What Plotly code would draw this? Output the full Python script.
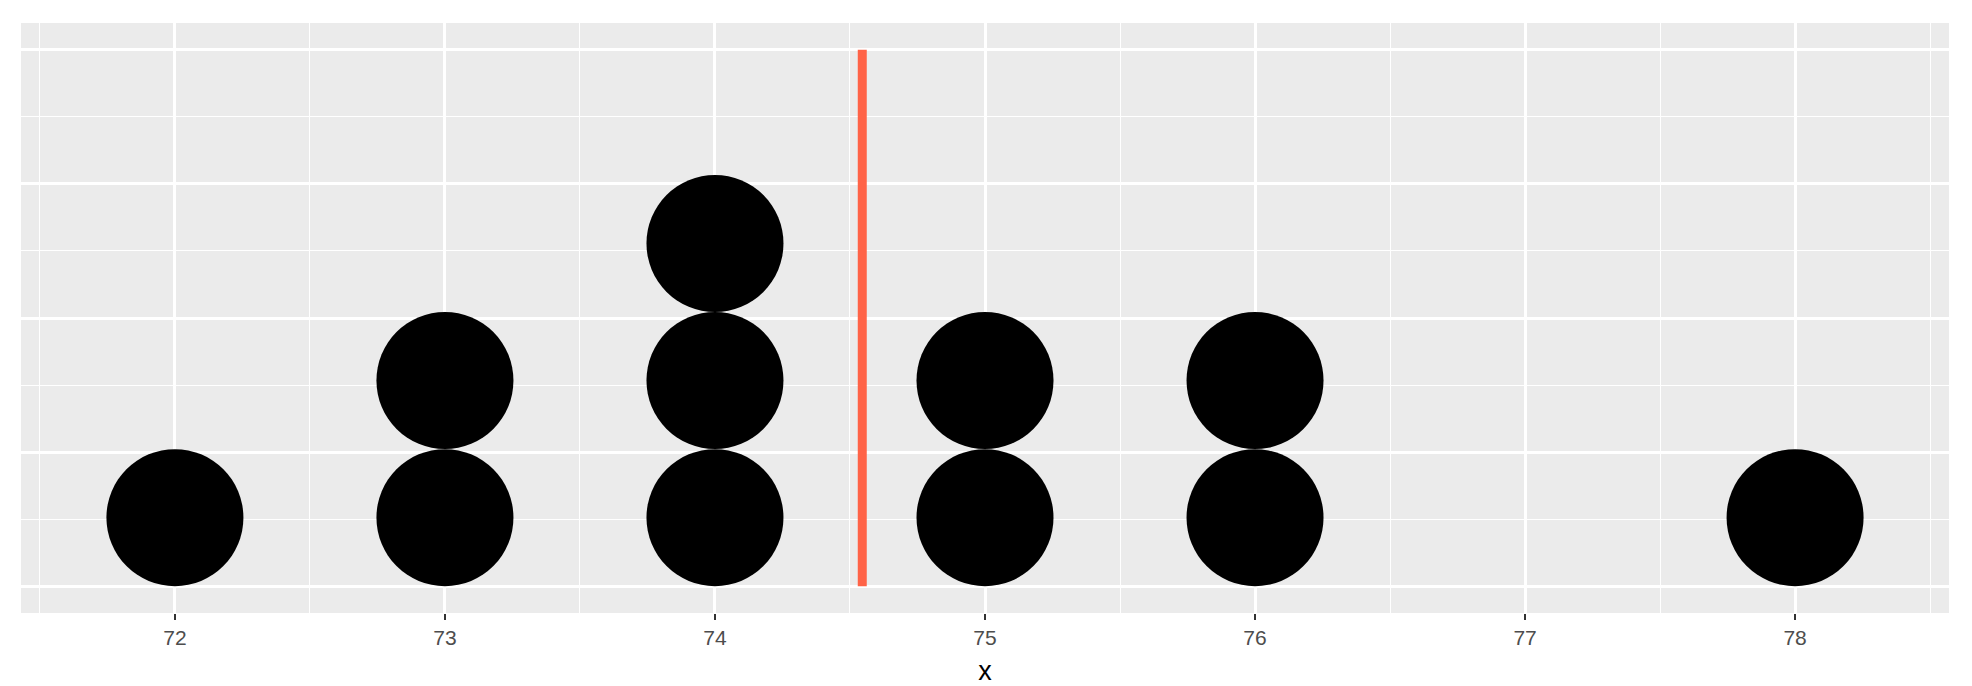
import plotly.graph_objects as go

# Data
x_values = [72, 73, 73, 74, 74, 74, 75, 75, 76, 76, 78]
x_ticks = [72, 73, 74, 75, 76, 77, 78]
x_tick_labels = ["72", "73", "74", "75", "76", "77", "78"]

# stacking of dots (dotplot): each repeated value stacks upward
dot_height = 0.2556  # stack step in y units (count scale)
counts = {}
dot_x, dot_y = [], []
for v in x_values:
    k = counts.get(v, 0)
    counts[v] = k + 1
    dot_x.append(v)
    dot_y.append((k + 0.5) * dot_height)

mean_x = sum(x_values) / len(x_values)

fig = go.Figure()
fig.add_trace(go.Scatter(
    x=dot_x, y=dot_y, mode="markers",
    marker=dict(size=137, color="black", line=dict(width=0)),
    hoverinfo="skip", showlegend=False,
))
fig.add_trace(go.Scatter(
    x=[mean_x, mean_x], y=[0, 1], mode="lines",
    line=dict(color="tomato", width=9),
    hoverinfo="skip", showlegend=False,
))

fig.update_layout(
    width=1972, height=686,
    margin=dict(l=21, r=23, t=23, b=73),
    paper_bgcolor="white",
    plot_bgcolor="#EBEBEB",
    font=dict(family="Liberation Sans, Arial, sans-serif"),
    xaxis=dict(
        range=[71.43, 78.57],
        tickvals=x_ticks, ticktext=x_tick_labels,
        showgrid=True, gridcolor="white", gridwidth=2.5,
        minor=dict(tickvals=[71.5, 72.5, 73.5, 74.5, 75.5, 76.5, 77.5, 78.5],
                   showgrid=True, gridcolor="white", gridwidth=1.3, ticks=""),
        ticks="outside", ticklen=6, tickwidth=2, tickcolor="#333333",
        tickfont=dict(size=21, color="#4D4D4D"),
        zeroline=False, showline=False, automargin=False,
        title=dict(text="x", font=dict(size=27, color="black"), standoff=12),
    ),
    yaxis=dict(
        range=[-0.05, 1.05],
        tickvals=[0, 0.25, 0.5, 0.75, 1.0],
        showticklabels=False, ticks="",
        showgrid=True, gridcolor="white", gridwidth=2.5,
        minor=dict(tickvals=[0.125, 0.375, 0.625, 0.875],
                   showgrid=True, gridcolor="white", gridwidth=1.3, ticks=""),
        zeroline=False, showline=False, automargin=False,
    ),
)

fig.write_html(
    "out.html",
    config={"displayModeBar": False},
    post_script="document.body.style.margin='0';document.documentElement.style.overflow='hidden';",
)
